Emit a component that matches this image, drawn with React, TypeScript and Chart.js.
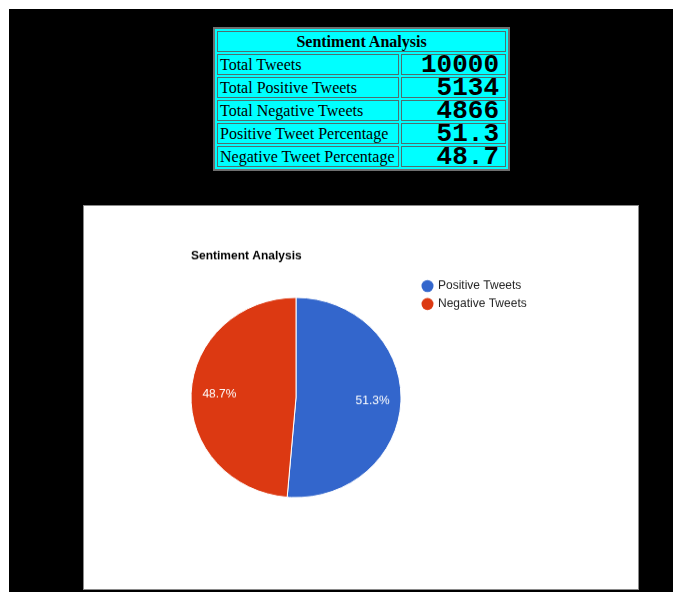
import React, { useEffect, useRef } from "react";
import { Chart, registerables } from "chart.js";

Chart.register(...registerables);

// ---- data ----
const categories = ["Positive Tweets", "Negative Tweets"];
const sliceValues = [5134, 4866];
const sliceColors = ["#3366cc", "#dc3912"];
const chartTitle = "Sentiment Analysis";

const tableTitle = "Sentiment Analysis";
const tableLabels = [
  "Total Tweets",
  "Total Positive Tweets",
  "Total Negative Tweets",
  "Positive Tweet Percentage",
  "Negative Tweet Percentage",
];
const tableValues = ["10000", "5134", "4866", "51.3", "48.7"];

const SANS = "Arial, 'Liberation Sans', sans-serif";

// canvas is drawn taller and squeezed by CSS so the pie matches the slightly oval reference
const CSS_W = 554;
const CSS_H = 383;
const BUF_H = 402;
const SY = CSS_H / BUF_H;

function drawText(ctx: CanvasRenderingContext2D, text: string, x: number, y: number) {
  ctx.save();
  ctx.translate(x, y);
  ctx.scale(1, 1 / SY);
  ctx.fillText(text, 0, 0);
  ctx.restore();
}

const overlayPlugin = {
  id: "googleLikeOverlay",
  afterDatasetsDraw(chart: any) {
    const ctx = chart.ctx as CanvasRenderingContext2D;
    const meta = chart.getDatasetMeta(0);
    const data = chart.data.datasets[0].data as number[];
    const total = data.reduce((a, b) => a + b, 0);
    ctx.save();
    // slice labels
    ctx.font = `12px ${SANS}`;
    ctx.fillStyle = "#ffffff";
    ctx.textAlign = "center";
    ctx.textBaseline = "middle";
    meta.data.forEach((arc: any, i: number) => {
      const p = arc.getProps(["x", "y", "startAngle", "endAngle", "outerRadius"], true);
      const mid = (p.startAngle + p.endAngle) / 2;
      const r = p.outerRadius * 0.73;
      const pct = ((data[i] / total) * 100).toFixed(1) + "%";
      drawText(ctx, pct, p.x + Math.cos(mid) * r, p.y + Math.sin(mid) * r);
    });
    // title
    ctx.font = `bold 12px ${SANS}`;
    ctx.fillStyle = "#000000";
    ctx.textAlign = "left";
    drawText(ctx, chartTitle, 107, 50 / SY);
    // legend
    const labels = chart.data.labels as string[];
    const colors = chart.data.datasets[0].backgroundColor as string[];
    labels.forEach((lab, i) => {
      const cy = (80 + i * 18) / SY;
      ctx.save();
      ctx.translate(343.5, cy);
      ctx.scale(1, 1 / SY);
      ctx.beginPath();
      ctx.arc(0, 0, 6, 0, Math.PI * 2);
      ctx.fillStyle = colors[i];
      ctx.fill();
      ctx.restore();
      ctx.font = `12px ${SANS}`;
      ctx.fillStyle = "#222222";
      drawText(ctx, lab, 354, cy);
    });
    ctx.restore();
  },
};

function PieChart() {
  const ref = useRef<HTMLCanvasElement | null>(null);
  useEffect(() => {
    if (!ref.current) return;
    const chart = new Chart(ref.current, {
      type: "pie",
      data: {
        labels: categories,
        datasets: [
          {
            data: sliceValues,
            backgroundColor: sliceColors,
            borderColor: "#ffffff",
            borderWidth: 1,
            radius: 105,
          } as any,
        ],
      },
      options: {
        animation: false,
        responsive: false,
        maintainAspectRatio: false,
        devicePixelRatio: 1,
        layout: { padding: { left: 97, right: 227, top: 86, bottom: 86 } },
        plugins: {
          legend: { display: false },
          title: { display: false },
          tooltip: { enabled: false },
        },
      },
      plugins: [overlayPlugin],
    });
    // keep the CSS size squeezed vertically
    ref.current.style.width = CSS_W + "px";
    ref.current.style.height = CSS_H + "px";
    return () => chart.destroy();
  }, []);
  return (
    <canvas
      ref={ref}
      width={CSS_W}
      height={BUF_H}
      style={{ display: "block", width: CSS_W, height: CSS_H }}
    />
  );
}

export default function App() {
  useEffect(() => {
    const prevHtml = document.documentElement.style.background;
    const prevBody = document.body.style.background;
    document.documentElement.style.background = "#000000";
    document.body.style.background = "#000000";
    return () => {
      document.documentElement.style.background = prevHtml;
      document.body.style.background = prevBody;
    };
  }, []);
  const cellBorder = "1px solid #4f6f6f";
  return (
    <div>
      <div style={{ position: "fixed", left: 0, top: 0, width: 3000, height: 9, background: "#ffffff" }} />
      <div style={{ position: "fixed", left: 0, top: 0, width: 9, height: 3000, background: "#ffffff" }} />
      <table
        style={{
          position: "absolute",
          left: 213,
          top: 27,
          background: "#00ffff",
          border: "2px solid #6f6f6f",
          borderCollapse: "separate",
          borderSpacing: 2,
          fontFamily: "'Times New Roman', 'Liberation Serif', serif",
          fontSize: 16,
          color: "#000",
          width: 297,
          boxSizing: "border-box",
        }}
      >
        <tbody>
          <tr>
            <th
              colSpan={2}
              style={{
                border: cellBorder,
                height: 19,
                lineHeight: "19px",
                padding: 0,
                fontWeight: "bold",
                textAlign: "center",
              }}
            >
              {tableTitle}
            </th>
          </tr>
          {tableLabels.map((lab, i) => (
            <tr key={lab}>
              <td
                style={{
                  border: cellBorder,
                  height: 19,
                  lineHeight: "19px",
                  padding: "0 0 0 2px",
                  width: 178,
                  whiteSpace: "nowrap",
                }}
              >
                {lab}
              </td>
              <td
                style={{
                  border: cellBorder,
                  height: 19,
                  lineHeight: "19px",
                  padding: "0 6px 0 0",
                  textAlign: "right",
                  fontFamily: "'Courier New', 'Liberation Mono', monospace",
                  fontWeight: "bold",
                  fontSize: 26,
                  whiteSpace: "nowrap",
                  overflow: "visible",
                }}
              >
                <span style={{ position: "relative", top: 1 }}>{tableValues[i]}</span>
              </td>
            </tr>
          ))}
        </tbody>
      </table>
      <div
        style={{
          position: "absolute",
          left: 83,
          top: 205,
          width: 554,
          height: 383,
          background: "#ffffff",
          border: "1px solid #8a8a8a",
        }}
      >
        <PieChart />
      </div>
    </div>
  );
}
